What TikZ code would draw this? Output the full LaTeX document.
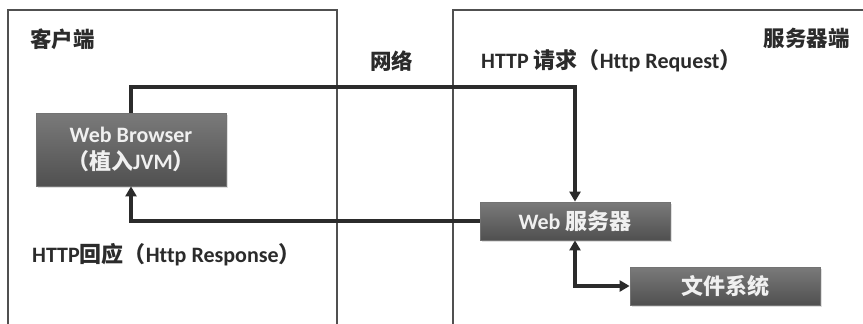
\documentclass[tikz,border=0pt]{standalone}
\usepackage{fontspec}
\setmainfont{Carlito}[Ligatures=NoCommon]
\newfontfamily\cjk{Noto Sans CJK SC}
\usetikzlibrary{arrows.meta,shadows}
\definecolor{ink}{HTML}{2B2B2B}
\definecolor{frm}{HTML}{505050}
\definecolor{boxtop}{HTML}{7A7A7A}
\definecolor{boxbot}{HTML}{505050}
\tikzset{
  frame/.style={draw=frm, line width=2pt},
  lbl/.style={text=ink, font=\bfseries\fontsize{22}{25}\selectfont, inner sep=0pt},
  head/.style={text=ink, font=\bfseries\fontsize{21.5}{24}\selectfont, inner sep=0pt},
  box/.style={draw=frm!80, line width=0.8pt, top color=boxtop, bottom color=boxbot,
    text=white!94!black, font=\bfseries\fontsize{22}{26}\selectfont, align=center,
    minimum width=190pt, inner sep=0pt,
    drop shadow={opacity=0.25, shadow xshift=2pt, shadow yshift=-2pt}},
  conn/.style={draw=ink, line width=3.5pt},
  tip/.style={-{Triangle[width=11pt,length=10pt]}},
  tips/.style={{Triangle[width=11pt,length=10pt]}-{Triangle[width=11pt,length=10pt]}}
}
\begin{document}
\begin{tikzpicture}[x=1pt,y=-1pt]
\useasboundingbox (0,0) rectangle (863,324);
\fill[white] (0,0) rectangle (863,324);
% frames
\draw[frame] (8,324) -- (8,10) -- (337,10) -- (337,324);
\draw[frame] (453,324) -- (453,10) -- (863,10);
% headings
\node[head, anchor=west] (client) at (30,39) {{\cjk 客户端}};
\node[head, anchor=west] (net) at (370,61) {{\cjk 网络}};
\node[head, anchor=east] (server) at (850,38) {{\cjk 服务器端}};
\node[lbl, anchor=west] (req) at (481,61) {HTTP {\cjk 请求（}Http Request{\cjk ）}};
\node[lbl, anchor=west] (resp) at (32,255) {HTTP{\cjk 回应（}Http Response{\cjk ）}};
% boxes
\node[box, minimum height=73pt] (wb) at (131,149.5) {Web Browser\\[1pt]{\cjk （植入}JVM{\cjk ）}};
\node[box, minimum height=38pt] (ws) at (575,221) {Web {\cjk 服务器}};
\node[box, minimum height=38pt] (fs) at (725,286) {{\cjk 文件系统}};
% connectors
\coordinate (top) at (300,87);
\draw[conn, tip] (wb.north) |- (top) -| (ws.north);
\draw[conn, tip] (ws.west) -| (wb.south);
\draw[conn, tips] (ws.south) |- (fs.west);
\end{tikzpicture}
\end{document}
